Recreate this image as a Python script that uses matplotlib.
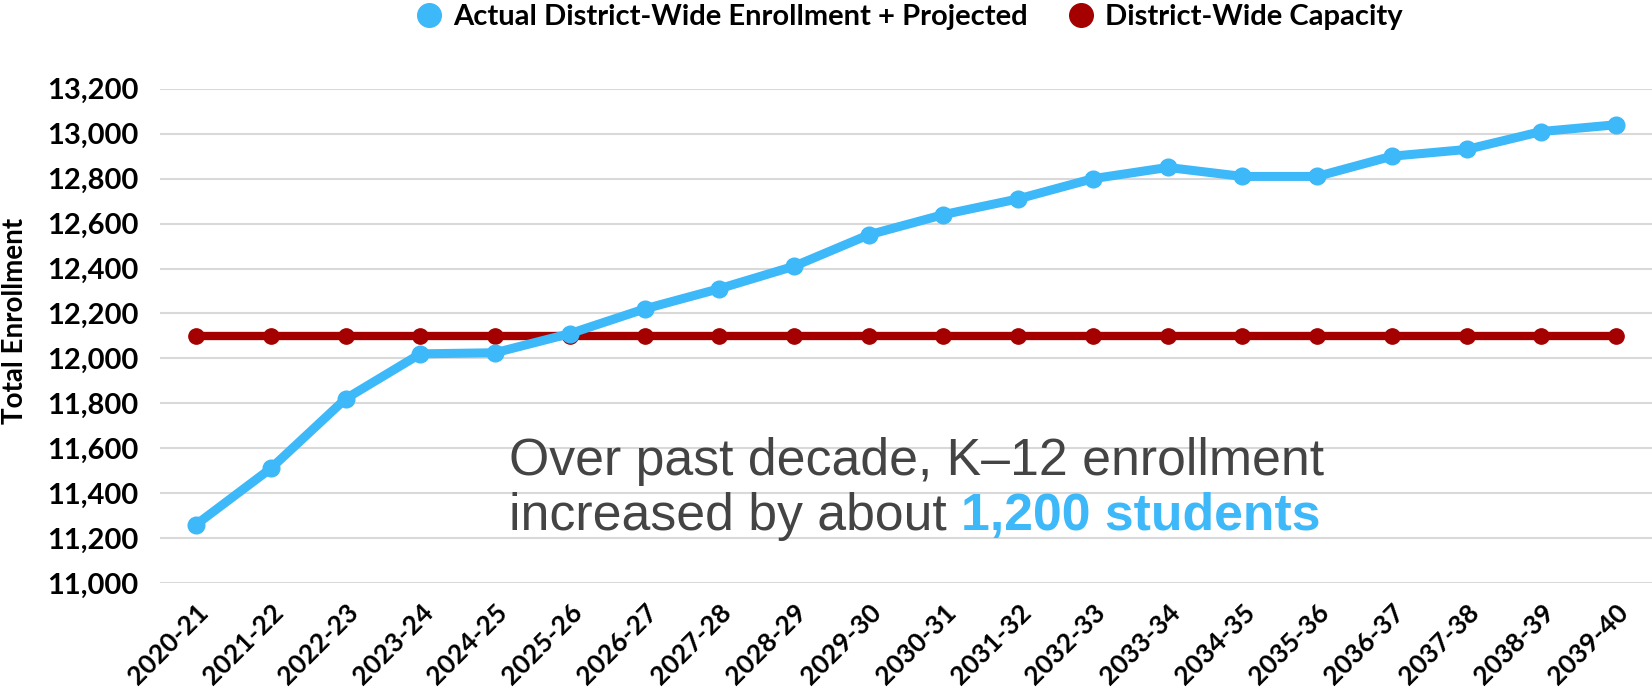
import numpy as np
import matplotlib.pyplot as plt
from matplotlib.lines import Line2D
#---------------------Data---------------------
years = ['2020-21', '2021-22', '2022-23', '2023-24', '2024-25', '2025-26',
         '2026-27', '2027-28', '2028-29', '2029-30', '2030-31', '2031-32',
         '2032-33', '2033-34', '2034-35', '2035-36', '2036-37', '2037-38',
         '2038-39', '2039-40']
enrollment = [11260, 11510, 11820, 12020, 12025, 12110, 12220, 12310, 12410, 12550,
              12640, 12710, 12800, 12850, 12810, 12810, 12900, 12930, 13010, 13040]
capacity = [12100] * len(years)
yticks = [11000, 11200, 11400, 11600, 11800, 12000, 12200, 12400, 12600, 12800, 13000, 13200]

blue = '#3db8f8'
red = '#a50000'
label_font = 'Lato'
#---------------------Plot---------------------
fig = plt.figure(figsize=(16.52, 6.94), dpi=100)
ax = fig.add_axes([0.097, 0.160, 0.903, 0.712])
x = np.arange(len(years))

ax.plot(x, capacity, color=red, lw=6, marker='o', ms=11, zorder=3)
ax.plot(x, enrollment, color=blue, lw=6.5, marker='o', ms=12, zorder=4)

ax.set_xlim(-0.48, len(years) - 0.52)
ax.set_ylim(11000, 13200)
ax.set_yticks(yticks)
ax.set_yticklabels([f'{v:,}' for v in yticks], fontsize=21, fontfamily=label_font, fontweight='bold')
ax.set_xticks(x)
ax.set_xticklabels(years, rotation=45, ha='right', rotation_mode='anchor',
                   fontsize=19, fontfamily=label_font, fontweight='bold')
ax.tick_params(length=0)
ax.tick_params(axis='y', pad=16)
ax.tick_params(axis='x', pad=12)
ax.grid(axis='y', color='#d9d9d9', lw=1.5)
ax.set_axisbelow(True)
for s in ax.spines.values():
    s.set_visible(False)
ax.set_ylabel('Total Enrollment', fontsize=20, fontfamily=label_font, fontweight='bold')
ax.yaxis.set_label_coords(-0.0885, 0.53)

# annotation
t = ax.text(4.18, 11543, 'Over past decade, K\u201312 enrollment', fontsize=37.3,
            fontfamily='Liberation Sans', color='#444444', va='center', ha='left')
t2 = ax.text(4.18, 11298, 'increased by about ', fontsize=37.3,
             fontfamily='Liberation Sans', color='#444444', va='center', ha='left')
ax.annotate('1,200 students', xy=(1, 0), xycoords=t2, va='bottom', ha='left',
            fontsize=37.3, fontfamily='Liberation Sans', fontweight='bold', color=blue)

# legend
handles = [Line2D([], [], ls='none', marker='o', ms=17, color=blue),
           Line2D([], [], ls='none', marker='o', ms=17, color=red)]
fig.legend(handles, ['Actual District-Wide Enrollment + Projected', 'District-Wide Capacity'],
           loc='upper center', bbox_to_anchor=(0.55, 1.032), ncol=2, frameon=False,
           prop={'family': label_font, 'size': 21, 'weight': 'bold'},
           handlelength=1.0, handletextpad=0.35, columnspacing=1.3)

plt.savefig('out.png', dpi=100)
